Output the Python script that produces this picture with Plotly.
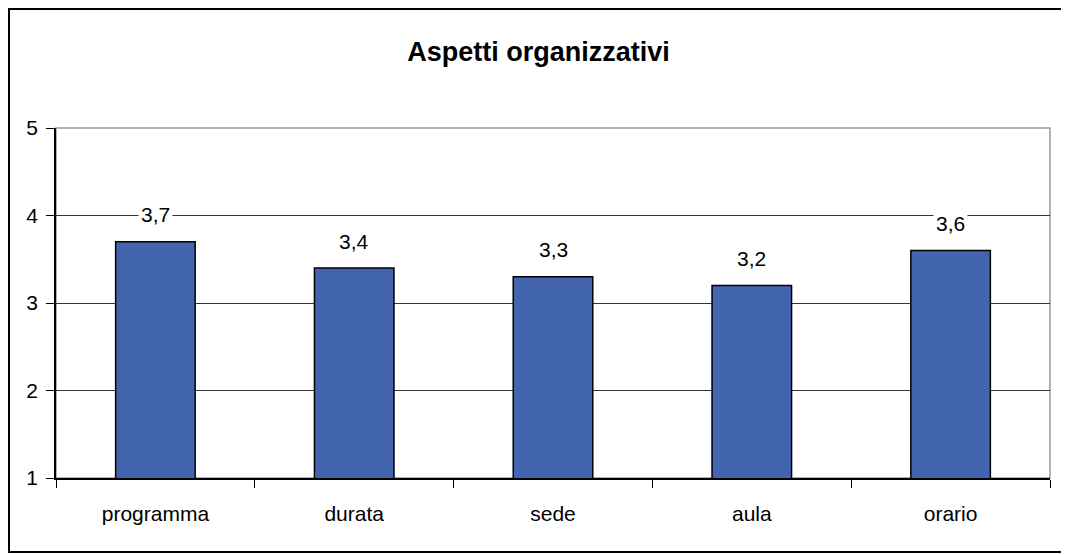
import plotly.graph_objects as go

categorie = ['programma', 'durata', 'sede', 'aula', 'orario']
valori = [3.7, 3.4, 3.3, 3.2, 3.6]
titolo = 'Aspetti organizzativi'

fig = go.Figure(
    go.Bar(
        x = categorie,
        y = valori,
        width = 0.4,
        marker = dict(color='#4364AE', line=dict(color='black', width=1.5)),
        hoverinfo = 'x+y'
        )
    )

# etichette sopra le barre, con sfondo bianco che copre la griglia
for c, v in zip(categorie, valori):
    fig.add_annotation(
        x = c, y = v,
        text = f'{v:.1f}'.replace('.', ','),
        showarrow = False,
        yshift = 27,
        bgcolor = 'white',
        borderpad = 2,
        font = dict(size=21, color='black')
        )

# bordo grigio area del grafico
fig.add_shape(type='rect', xref='paper', yref='paper', x0=0, x1=1, y0=0, y1=1,
              line=dict(color='#999999', width=1.5), layer='below')
# bordo esterno nero (la pagina ha 8px di margine)
fig.add_shape(type='rect', xref='paper', yref='paper',
              x0=-47/994, x1=1010/994, y0=-74/350, y1=469/350,
              line=dict(color='black', width=2))

fig.update_layout(
    width = 1061,
    height = 547,
    separators = ',.',
    margin = dict(l=48, r=19, t=120, b=77, autoexpand=False),
    plot_bgcolor = 'white',
    paper_bgcolor = 'white',
    showlegend = False,
    font = dict(family='Liberation Sans, Arial', size=21, color='black'),
    title = dict(text='<b>' + titolo + '</b>', x=0.5, xanchor='center',
                 y=1 - 44/547, yanchor='middle', font=dict(size=27)),
    xaxis = dict(
        showline = True, linecolor='black', linewidth=1.5,
        ticks = 'outside', tickson='boundaries', ticklen=8, tickcolor='black',
        ticklabelstandoff = 16,
        showgrid = False
        ),
    yaxis = dict(
        range = [1, 5], dtick=1,
        showline = True, linecolor='black', linewidth=1.5,
        ticks = 'outside', ticklen=8, tickcolor='black',
        ticklabelstandoff = 4,
        showgrid = True, gridcolor='#333333', gridwidth=1,
        zeroline = False
        )
)

fig.write_html("out.html")
